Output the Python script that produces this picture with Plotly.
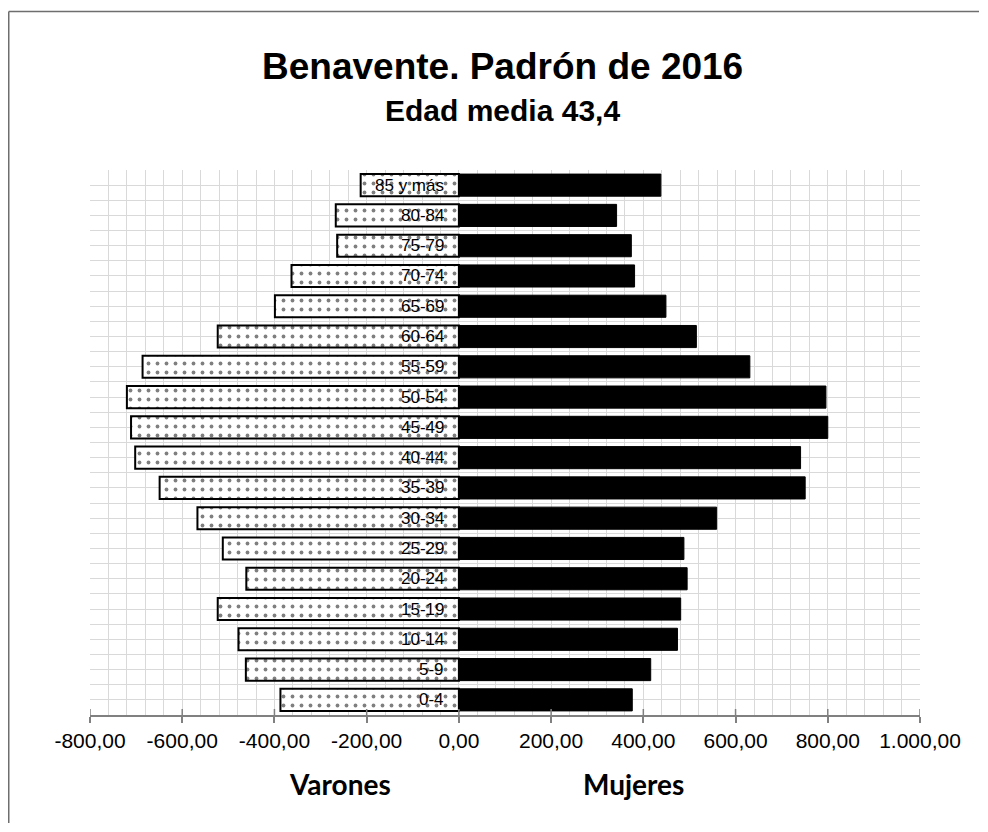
import plotly.graph_objects as go

# ---- data ----
ages = ["0-4", "5-9", "10-14", "15-19", "20-24", "25-29", "30-34", "35-39", "40-44",
        "45-49", "50-54", "55-59", "60-64", "65-69", "70-74", "75-79", "80-84", "85 y más"]
varones = [-387, -462, -478, -523, -461, -512, -567, -649, -702,
           -711, -720, -686, -523, -399, -363, -264, -267, -213]
mujeres = [376, 416, 474, 481, 495, 488, 559, 751, 741,
           800, 796, 631, 515, 449, 381, 374, 342, 438]
xtick_vals = [-800, -600, -400, -200, 0, 200, 400, 600, 800, 1000]
xtick_text = ["-800,00", "-600,00", "-400,00", "-200,00", "0,00",
              "200,00", "400,00", "600,00", "800,00", "1.000,00"]
title_text = "Benavente. Padrón de 2016"
subtitle_text = "Edad media 43,4"
series_names = ["Varones", "Mujeres"]

pos = list(range(len(ages)))

# page has an 8px body margin; keep the figure inside the window
OFF = 8
W, H = 988 - 2 * OFF, 832 - 2 * OFF
PL, PR, PT, PB = 90, 920, 170, 715   # plot area in page pixels
L, T = PL - OFF, PT - OFF
R = W - L - (PR - PL)
B = H - T - (PB - PT)
plot_w = PR - PL
plot_h = PB - PT

def px_x(x):
    return (x - PL) / plot_w

def px_y(y):
    return (PB - y) / plot_h

GRID = "#d9d9d9"
AX = "#808080"
FONT = "Liberation Sans, Arial, sans-serif"

fig = go.Figure()
fig.add_trace(go.Bar(
    y=pos, x=varones, orientation="h", name=series_names[0],
    marker=dict(color="white",
                pattern=dict(shape=".", fgcolor="black", bgcolor="white", size=9, solidity=0.14),
                line=dict(color="black", width=2)),
    hoverinfo="x+y",
))
fig.add_trace(go.Bar(
    y=pos, x=mujeres, orientation="h", name=series_names[1],
    marker=dict(color="black", line=dict(color="black", width=1)),
    hoverinfo="x+y",
))

fig.update_layout(
    width=W, height=H,
    margin=dict(l=L, r=R, t=T, b=B),
    paper_bgcolor="white", plot_bgcolor="white",
    barmode="relative", bargap=0.27,
    showlegend=False,
    font=dict(family=FONT, color="black"),
    xaxis=dict(range=[-800, 1000], tickmode="array", tickvals=xtick_vals, ticktext=xtick_text,
               ticks="outside", ticklen=6, tickcolor=AX, tickwidth=1.5,
               showline=True, linecolor=AX, linewidth=1.5,
               showgrid=True, gridcolor=GRID, gridwidth=1, zeroline=False,
               minor=dict(dtick=40, tick0=0, showgrid=True, gridcolor=GRID, gridwidth=1, ticks=""),
               tickfont=dict(size=21, family=FONT, color="black"),
               fixedrange=True),
    yaxis=dict(range=[-0.5, len(ages) - 0.5], tickmode="linear", tick0=-0.5, dtick=0.5,
               showticklabels=False, showgrid=True, gridcolor=GRID, gridwidth=1,
               zeroline=False, ticks="", fixedrange=True),
)

# crossing tick marks (inner half) at the major tick values
for v in xtick_vals:
    fig.add_shape(type="line", xref="x", yref="paper", x0=v, x1=v, y0=0, y1=6 / plot_h,
                  line=dict(color=AX, width=1.5), layer="above")

# age labels, right-aligned just left of zero
for p, a in zip(pos, ages):
    fig.add_annotation(x=0, y=p, xref="x", yref="y", text=a, showarrow=False,
                       xanchor="right", yanchor="middle", xshift=-13,
                       font=dict(size=17, family=FONT, color="black"))

fig.add_annotation(x=px_x(502), y=px_y(66), xref="paper", yref="paper",
                   text="<b>" + title_text + "</b>", showarrow=False,
                   font=dict(size=37, family=FONT, color="black"),
                   xanchor="center", yanchor="middle")
fig.add_annotation(x=px_x(502), y=px_y(111), xref="paper", yref="paper",
                   text="<b>" + subtitle_text + "</b>", showarrow=False,
                   font=dict(size=30, family=FONT, color="black"),
                   xanchor="center", yanchor="middle")
fig.add_annotation(x=px_x(340), y=px_y(784), xref="paper", yref="paper",
                   text="<b>" + series_names[0] + "</b>", showarrow=False,
                   font=dict(size=28, family="Lato, Open Sans, sans-serif", color="black"),
                   xanchor="center", yanchor="middle")
fig.add_annotation(x=px_x(633), y=px_y(784), xref="paper", yref="paper",
                   text="<b>" + series_names[1] + "</b>", showarrow=False,
                   font=dict(size=28, family="Lato, Open Sans, sans-serif", color="black"),
                   xanchor="center", yanchor="middle")

# chart frame: top and left edges, kept inside the figure
FRAME = dict(color="#6e6e6e", width=1.5)
fig_right = OFF + W - 1
fig_bottom = OFF + H - 1
fig.add_shape(type="line", xref="paper", yref="paper",
              x0=px_x(8.75), x1=px_x(fig_right), y0=px_y(11.5), y1=px_y(11.5), line=FRAME, layer="below")
fig.add_shape(type="line", xref="paper", yref="paper",
              x0=px_x(8.75), x1=px_x(8.75), y0=px_y(11.5), y1=px_y(fig_bottom), line=FRAME, layer="below")

fig.write_html("out.html")
